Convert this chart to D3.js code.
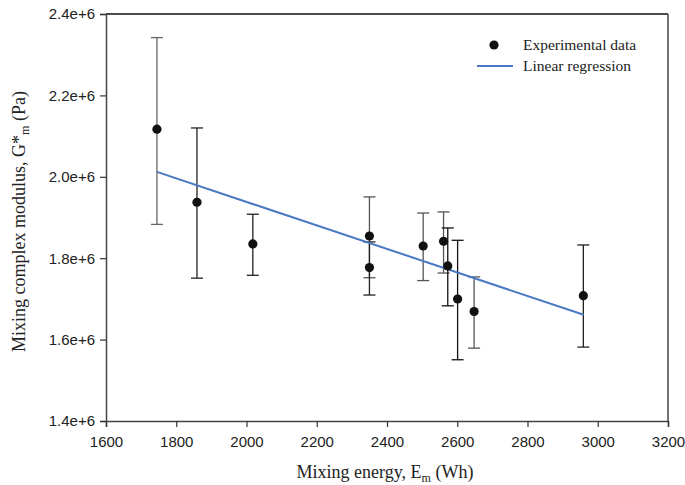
<!DOCTYPE html>
<html>
<head>
<meta charset="utf-8">
<script src="https://cdn.jsdelivr.net/npm/d3@7"></script>
<style>
  body { margin: 0; background: #fff; }
  .tick text { font-family: "Liberation Sans", Arial, sans-serif; font-size: 15px; fill: #222; }
  .title { font-family: "Liberation Serif", "Times New Roman", serif; font-size: 18px; fill: #222; }
  .legend { font-family: "Liberation Serif", "Times New Roman", serif; font-size: 15.5px; fill: #222; }
</style>
</head>
<body>
<div class="chart"></div>
<script>
// data
var energy  = [1745, 1859, 2018, 2350, 2350, 2503, 2561, 2573, 2601, 2648, 2959];
var modulus = [2.117e6, 1.9375e6, 1.835e6, 1.8546e6, 1.777e6, 1.830e6, 1.8416e6, 1.781e6, 1.6997e6, 1.669e6, 1.708e6];
var errLow  = [1.883e6, 1.751e6, 1.758e6, 1.752e6, 1.7095e6, 1.745e6, 1.7636e6, 1.683e6, 1.5505e6, 1.579e6, 1.5816e6];
var errHigh = [2.342e6, 2.120e6, 1.908e6, 1.9506e6, 1.840e6, 1.911e6, 1.9137e6, 1.8743e6, 1.844e6, 1.754e6, 1.8325e6];
var errColor = ["#666", "#222", "#222", "#555", "#222", "#555", "#555", "#111", "#111", "#555", "#222"];

// regression endpoints
var regX = [1745, 2960];
var regY = [2.012e6, 1.661e6];

var xTicks = [1600, 1800, 2000, 2200, 2400, 2600, 2800, 3000, 3200];
var yTicks = [1.4e6, 1.6e6, 1.8e6, 2.0e6, 2.2e6, 2.4e6];

var margin = {top: 14, right: 17, bottom: 64, left: 106},
    width = 685 - margin.left - margin.right,
    height = 485 - margin.top - margin.bottom;

var svg = d3.select(".chart")
            .append("svg")
            .attr("width", 685)
            .attr("height", 485)
            .append("g")
            .attr("transform", "translate(" + margin.left + "," + margin.top + ")");

var x = d3.scaleLinear().domain([1600, 3200]).range([0, width]);
var y = d3.scaleLinear().domain([1.4e6, 2.4e6]).range([height, 0]);

// frame top / right
svg.append("line").attr("x1", 0).attr("x2", width).attr("y1", 0).attr("y2", 0)
   .attr("stroke", "#111").attr("stroke-width", 1.5);
svg.append("line").attr("x1", width).attr("x2", width).attr("y1", 0).attr("y2", height)
   .attr("stroke", "#444").attr("stroke-width", 1.5);

var xAxis = svg.append("g")
   .attr("transform", "translate(0," + height + ")")
   .call(d3.axisBottom(x).tickValues(xTicks).tickFormat(d3.format("d")).tickSize(6).tickPadding(9));

var yAxis = svg.append("g")
   .call(d3.axisLeft(y).tickValues(yTicks).tickFormat(function(d){ return (d / 1e6).toFixed(1) + "e+6"; }).tickSize(6).tickPadding(5));

[xAxis, yAxis].forEach(function(a){
  a.select(".domain").attr("stroke", "#444").attr("stroke-width", 1.5);
  a.selectAll(".tick line").attr("stroke", "#333").attr("stroke-width", 1.2);
});

// axis titles
var xt = svg.append("text").attr("class", "title")
   .attr("text-anchor", "middle")
   .attr("x", width / 2 - 2).attr("y", height + 57);
xt.append("tspan").text("Mixing energy, E");
xt.append("tspan").attr("dy", 4).style("font-size", "12px").text("m");
xt.append("tspan").attr("dy", -4).text(" (Wh)");

var yt = svg.append("text").attr("class", "title")
   .attr("text-anchor", "middle")
   .attr("transform", "translate(" + (-81) + "," + (height / 2 + 4) + ")rotate(-90)");
yt.append("tspan").text("Mixing complex modulus, G*");
yt.append("tspan").attr("dy", 4).style("font-size", "12px").text("m");
yt.append("tspan").attr("dy", -4).text(" (Pa)");

var pts = energy.map(function(e, i){
  return {x: e, y: modulus[i], lo: errLow[i], hi: errHigh[i], c: errColor[i]};
});

// error bars
var eb = svg.append("g").selectAll("g").data(pts).enter().append("g")
   .attr("stroke", function(d){ return d.c; }).attr("stroke-width", 1.3);
eb.append("line")
   .attr("x1", function(d){ return x(d.x); }).attr("x2", function(d){ return x(d.x); })
   .attr("y1", function(d){ return y(d.lo); }).attr("y2", function(d){ return y(d.hi); });
eb.append("line")
   .attr("x1", function(d){ return x(d.x) - 6; }).attr("x2", function(d){ return x(d.x) + 6; })
   .attr("y1", function(d){ return y(d.hi); }).attr("y2", function(d){ return y(d.hi); });
eb.append("line")
   .attr("x1", function(d){ return x(d.x) - 6; }).attr("x2", function(d){ return x(d.x) + 6; })
   .attr("y1", function(d){ return y(d.lo); }).attr("y2", function(d){ return y(d.lo); });

// regression line
var line = d3.line().x(function(d){ return x(d[0]); }).y(function(d){ return y(d[1]); });
svg.append("path")
   .attr("d", line(regX.map(function(v, i){ return [v, regY[i]]; })))
   .attr("fill", "none")
   .attr("stroke", "#4a78c2")
   .attr("stroke-width", 2);

// points
svg.append("g").selectAll("circle").data(pts).enter().append("circle")
   .attr("cx", function(d){ return x(d.x); })
   .attr("cy", function(d){ return y(d.y); })
   .attr("r", 4.6)
   .attr("fill", "#111");

// legend
var lg = svg.append("g").attr("transform", "translate(" + (494 - margin.left) + "," + (45 - margin.top) + ")");
lg.append("circle").attr("cx", 0).attr("cy", 0).attr("r", 4.6).attr("fill", "#111");
lg.append("text").attr("class", "legend").attr("x", 29).attr("y", 5).text("Experimental data");
lg.append("line").attr("x1", -17).attr("x2", 19).attr("y1", 21).attr("y2", 21)
  .attr("stroke", "#4a78c2").attr("stroke-width", 2);
lg.append("text").attr("class", "legend").attr("x", 29).attr("y", 26).text("Linear regression");
</script>
</body>
</html>
